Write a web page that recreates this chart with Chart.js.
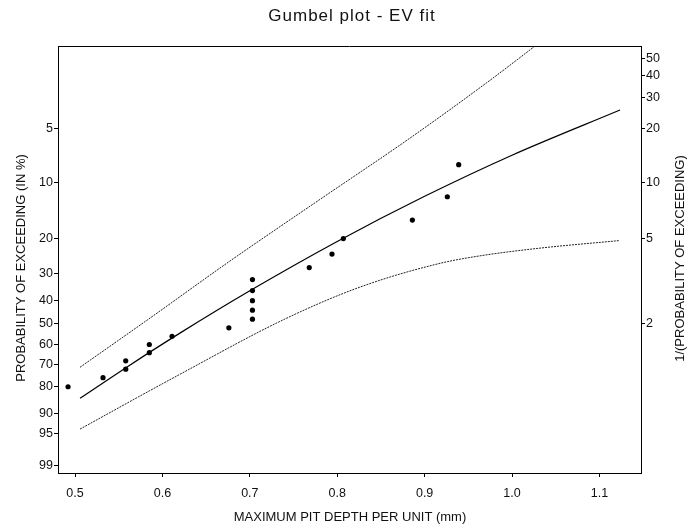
<!DOCTYPE html>
<html>
<head>
<meta charset="utf-8">
<script src="https://cdn.jsdelivr.net/npm/chart.js@4/dist/chart.umd.min.js"></script>
<style>
  html, body { margin: 0; padding: 0; background: #fff; }
  canvas { display: block; }
</style>
</head>
<body>
<canvas id="c" width="689" height="531"></canvas>
<script>
// ---- data (probability of exceeding in %) ----
const PIT_DEPTH = [0.939, 0.926, 0.886, 0.807, 0.794, 0.768, 0.703, 0.703, 0.703, 0.703, 0.703, 0.676, 0.611, 0.585, 0.585, 0.558, 0.558, 0.532, 0.492];
const PIT_PROB  = [8, 12, 16, 20, 24, 28, 32, 36, 40, 44, 48, 52, 56, 60, 64, 68, 72, 76, 80];

const FIT_DEPTH = [0.5057, 0.56, 0.62, 0.70, 0.80, 0.90, 1.00, 1.1236];
const FIT_PROB  = [84.7, 70.8, 54.5, 36.1, 20.7, 11.93, 7.08, 3.94];

const UPPER_DEPTH = [0.5057, 0.5858, 0.6773, 0.7803, 0.8833, 0.9748, 1.0263];
const UPPER_PROB  = [71.1, 47.5, 26.0, 12.4, 5.68, 2.67, 1.70];

const LOWER_DEPTH = [0.5057, 0.6201, 0.7403, 0.8261, 0.9176, 0.9634, 1.0320, 1.1224];
const LOWER_PROB  = [94.1, 74.4, 47.9, 34.7, 26.7, 24.5, 22.4, 20.5];

const X_TICKS = [0.5, 0.6, 0.7, 0.8, 0.9, 1.0, 1.1];
const LEFT_TICKS = [5, 10, 20, 30, 40, 50, 60, 70, 80, 90, 95, 99];     // % exceeding
const RIGHT_TICKS = [50, 40, 30, 20, 10, 5, 2];                          // return period 1/P

// Gumbel reduced variate for an exceedance probability in %
function gumbel(pct) { return -Math.log(-Math.log(1 - pct / 100)); }
function pts(xs, ps) { return xs.map((x, i) => ({ x: x, y: gumbel(ps[i]) })); }

const FONT = "'Liberation Sans', Arial, Helvetica, sans-serif";
const INK = '#111';

const decor = {
  id: 'decor',
  afterDraw(chart) {
    const ctx = chart.ctx, a = chart.chartArea;
    ctx.save();
    // top frame line
    ctx.strokeStyle = '#000';
    ctx.lineWidth = 1;
    ctx.beginPath();
    ctx.moveTo(a.left, a.top + 0.5);
    ctx.lineTo(a.right, a.top + 0.5);
    ctx.stroke();

    ctx.fillStyle = INK;
    // main title
    ctx.font = '17px ' + FONT;
    try { ctx.letterSpacing = '1px'; } catch (e) {}
    ctx.textAlign = 'center';
    ctx.textBaseline = 'alphabetic';
    ctx.fillText('Gumbel plot - EV fit', 352, 20.7);
    try { ctx.letterSpacing = '0px'; } catch (e) {}

    // x title
    ctx.font = '13px ' + FONT;
    ctx.fillText('MAXIMUM PIT DEPTH PER UNIT (mm)', 350, 521);

    // left title
    ctx.save();
    ctx.translate(24.5, 268);
    ctx.rotate(-Math.PI / 2);
    ctx.fillText('PROBABILITY OF EXCEEDING (IN %)', 0, 0);
    ctx.restore();

    // right title
    ctx.save();
    ctx.translate(684, 258.5);
    ctx.rotate(-Math.PI / 2);
    ctx.fillText('1/(PROBABILITY OF EXCEEDING)', 0, 0);
    ctx.restore();

    ctx.restore();
  }
};

const tickFont = { family: FONT, size: 12.5 };

new Chart(document.getElementById('c'), {
  type: 'scatter',
  data: {
    datasets: [
      {
        label: 'data',
        data: pts(PIT_DEPTH, PIT_PROB),
        showLine: false,
        pointRadius: 2.6,
        pointBackgroundColor: '#000',
        pointBorderColor: '#000',
        pointBorderWidth: 0,
        order: 0
      },
      {
        label: 'fit',
        type: 'line',
        data: pts(FIT_DEPTH, FIT_PROB),
        borderColor: '#000',
        borderWidth: 1.2,
        pointRadius: 0,
        cubicInterpolationMode: 'monotone',
        fill: false,
        order: 1
      },
      {
        label: 'upper',
        type: 'line',
        data: pts(UPPER_DEPTH, UPPER_PROB),
        borderColor: '#222',
        borderWidth: 1,
        borderDash: [2, 1],
        pointRadius: 0,
        cubicInterpolationMode: 'monotone',
        fill: false,
        order: 2
      },
      {
        label: 'lower',
        type: 'line',
        data: pts(LOWER_DEPTH, LOWER_PROB),
        borderColor: '#222',
        borderWidth: 1,
        borderDash: [2, 1],
        pointRadius: 0,
        cubicInterpolationMode: 'monotone',
        fill: false,
        order: 2
      }
    ]
  },
  options: {
    responsive: false,
    animation: false,
    devicePixelRatio: 1,
    layout: { padding: { top: 46, left: 0, right: 0, bottom: 0 } },
    plugins: {
      legend: { display: false },
      title: { display: false },
      tooltip: { enabled: false }
    },
    scales: {
      x: {
        type: 'linear',
        position: 'bottom',
        min: 0.4805,
        max: 1.1476,
        afterBuildTicks: s => { s.ticks = X_TICKS.map(v => ({ value: v })); },
        afterFit: s => { s.height = 58; },
        ticks: {
          color: INK, font: tickFont, padding: 9, maxRotation: 0, autoSkip: false,
          callback: v => Number(v).toFixed(1)
        },
        grid: { drawOnChartArea: false, drawTicks: true, tickLength: 4, color: '#000', lineWidth: 1 },
        border: { display: true, color: '#000', width: 1 }
      },
      y: {
        type: 'linear',
        position: 'left',
        min: -1.626,
        max: 4.067,
        afterBuildTicks: s => { s.ticks = LEFT_TICKS.map(p => ({ value: gumbel(p) })); },
        afterFit: s => { s.width = 58; },
        ticks: {
          color: INK, font: tickFont, padding: 1, autoSkip: false,
          callback: (v, i) => String(LEFT_TICKS[i])
        },
        grid: { drawOnChartArea: false, drawTicks: true, tickLength: 4, color: '#000', lineWidth: 1 },
        border: { display: true, color: '#000', width: 1 }
      },
      y2: {
        type: 'linear',
        position: 'right',
        min: -1.626,
        max: 4.067,
        afterBuildTicks: s => { s.ticks = RIGHT_TICKS.map(t => ({ value: gumbel(100 / t) })); },
        afterFit: s => { s.width = 48; },
        ticks: {
          color: INK, font: tickFont, padding: 1, autoSkip: false,
          callback: (v, i) => String(RIGHT_TICKS[i])
        },
        grid: { drawOnChartArea: false, drawTicks: true, tickLength: 4, color: '#000', lineWidth: 1 },
        border: { display: true, color: '#000', width: 1 }
      }
    }
  },
  plugins: [decor]
});
</script>
</body>
</html>
